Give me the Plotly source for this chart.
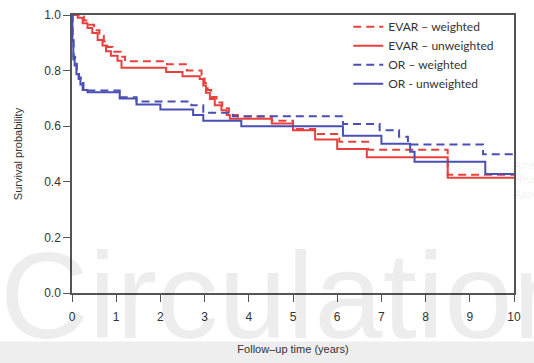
import plotly.graph_objects as go

# EVAR - unweighted (red solid)
evar_unw_t = [0, 0.13, 0.24, 0.35, 0.46, 0.58, 0.69, 0.77, 0.88, 1.03, 1.12, 2.13, 2.5, 2.89, 2.97, 3.03, 3.12, 3.23, 3.38, 3.5, 3.57, 4.52, 5.0, 5.5, 6.0, 6.67, 8.5, 10]
evar_unw_s = [1.0, 0.99, 0.97, 0.953, 0.935, 0.91, 0.89, 0.87, 0.853, 0.835, 0.81, 0.795, 0.78, 0.77, 0.746, 0.72, 0.698, 0.675, 0.657, 0.64, 0.627, 0.61, 0.585, 0.552, 0.518, 0.488, 0.415, 0.415]

# EVAR - weighted (red dashed)
evar_w_t = [0, 0.15, 0.27, 0.38, 0.5, 0.62, 0.72, 0.8, 0.92, 1.1, 1.2, 2.15, 2.6, 2.93, 3.0, 3.07, 3.15, 3.27, 3.4, 3.55, 3.65, 3.75, 4.52, 5.0, 5.5, 6.05, 6.7, 8.5, 10]
evar_w_s = [1.0, 0.995, 0.98, 0.965, 0.945, 0.925, 0.905, 0.885, 0.868, 0.85, 0.834, 0.823, 0.8, 0.778, 0.755, 0.73, 0.705, 0.685, 0.665, 0.65, 0.64, 0.635, 0.62, 0.59, 0.572, 0.544, 0.515, 0.425, 0.425]

# OR - unweighted (blue solid)
or_unw_t = [0, 0.01, 0.03, 0.06, 0.1, 0.15, 0.19, 0.24, 0.35, 1.08, 1.46, 2.0, 2.74, 2.97, 3.83, 6.13, 7.0, 7.65, 7.75, 9.35, 10]
or_unw_s = [1.0, 0.906, 0.84, 0.818, 0.787, 0.77, 0.75, 0.73, 0.722, 0.70, 0.678, 0.66, 0.64, 0.62, 0.60, 0.566, 0.537, 0.508, 0.472, 0.428, 0.428]

# OR - weighted (blue dashed)
or_w_t = [0, 0.015, 0.035, 0.07, 0.11, 0.16, 0.2, 0.26, 0.37, 1.08, 1.46, 2.7, 2.97, 3.64, 6.13, 6.96, 7.4, 7.6, 9.3, 10]
or_w_s = [1.0, 0.91, 0.85, 0.825, 0.795, 0.775, 0.755, 0.735, 0.728, 0.704, 0.689, 0.675, 0.648, 0.636, 0.608, 0.585, 0.562, 0.534, 0.499, 0.499]

x_ticks = list(range(0, 11))
y_ticks = [0.0, 0.2, 0.4, 0.6, 0.8, 1.0]

RED = "#e8413d"
BLUE = "#4a4fb3"
DASH = "8px,5px"

fig = go.Figure()
series = [
    ("EVAR – weighted", evar_w_t, evar_w_s, RED, DASH),
    ("EVAR – unweighted", evar_unw_t, evar_unw_s, RED, "solid"),
    ("OR – weighted", or_w_t, or_w_s, BLUE, DASH),
    ("OR - unweighted", or_unw_t, or_unw_s, BLUE, "solid"),
]
for name, t, s, c, d in series:
    fig.add_trace(go.Scatter(x=t, y=s, mode="lines", name=name,
                             line=dict(color=c, width=2, dash=d, shape="hv"),
                             cliponaxis=False))

axis_common = dict(showline=True, linecolor="#555555", linewidth=1.5, mirror=True,
                   ticks="outside", ticklen=7, tickwidth=1.3, tickcolor="#555555",
                   showgrid=False, zeroline=False, automargin=False,
                   tickfont=dict(family="Liberation Sans", size=12, color="#333333"))

fig.update_layout(
    width=534, height=363,
    margin=dict(l=72, r=20, t=12, b=70),
    paper_bgcolor="white", plot_bgcolor="rgba(0,0,0,0)",
    xaxis=dict(range=[0, 10], tickvals=x_ticks, ticklabelstandoff=5, **axis_common,
               title=dict(text="Follow–up time (years)", standoff=22,
                          font=dict(family="Liberation Sans", size=11, color="#333333"))),
    yaxis=dict(range=[0, 1], tickvals=y_ticks, tickformat=".1f", **axis_common,
               title=dict(text="Survival probability", standoff=19,
                          font=dict(family="Liberation Sans", size=11, color="#333333"))),
    legend=dict(x=0.625, y=1.01, xanchor="left", yanchor="top",
                bgcolor="rgba(0,0,0,0)", itemwidth=30,
                font=dict(family="Lato", size=12, color="#333333"),
                tracegroupgap=0),
    showlegend=True,
)

# bottom light band
fig.add_shape(type="rect", xref="paper", yref="paper",
              x0=-72/442, x1=(534-72)/442, y0=(293-342)/281, y1=(293-370)/281,
              fillcolor="#eeeeee", line=dict(width=0), layer="below")

# watermark
fig.add_annotation(text="Circulation", xref="paper", yref="paper",
                   x=-74/442, y=(293-296)/281, xanchor="left", yanchor="middle",
                   showarrow=False,
                   font=dict(family="Liberation Sans", size=123, color="rgba(0,0,0,0.07)"))
fig.add_annotation(text="American<br>Heart<br>Association", xref="paper", yref="paper",
                   x=(512-72)/442, y=(293-178)/281, xanchor="left", yanchor="middle",
                   showarrow=False, align="left",
                   font=dict(family="Liberation Sans", size=11, color="rgba(0,0,0,0.08)"))

fig.write_html("out.html", config={"displayModeBar": False},
               post_script="document.body.style.margin='0';document.body.style.overflow='hidden';")
